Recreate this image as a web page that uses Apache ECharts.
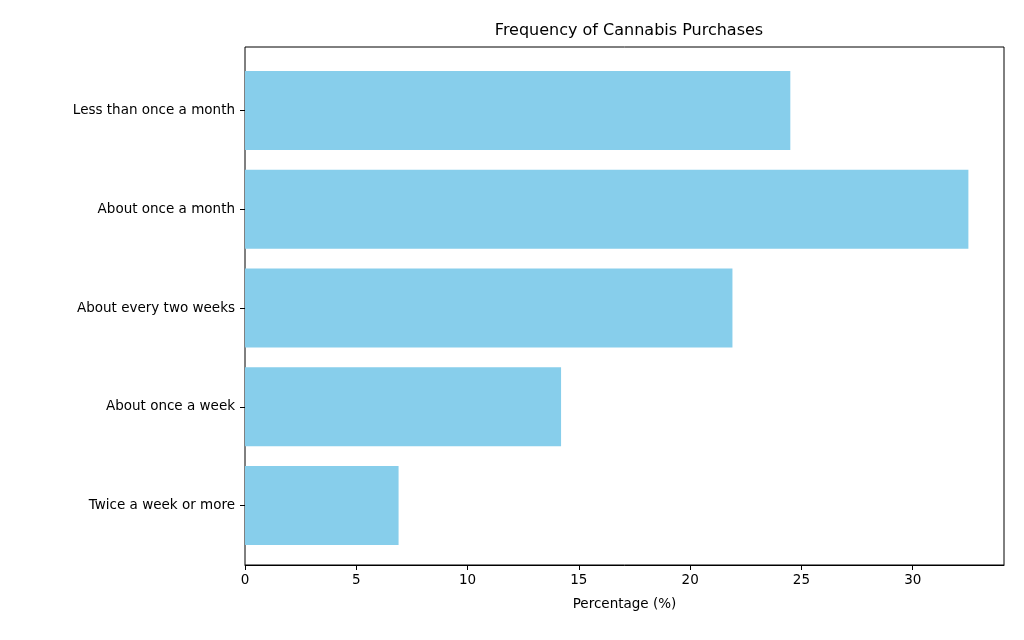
<!DOCTYPE html>
<html><head><meta charset="utf-8">
<script src="https://cdn.jsdelivr.net/npm/echarts@6/dist/echarts.min.js"></script>
<style>html,body{margin:0;background:#fff}#c{width:1024px;height:640px}</style>
</head><body><div id="c"></div>
<script>
const categories = ["Less than once a month","About once a month","About every two weeks","About once a week","Twice a week or more"];
const values = [24.5, 32.5, 21.9, 14.2, 6.9];
const chart = echarts.init(document.getElementById('c'));
const txt = {color:'#000', fontFamily:'DejaVu Sans', fontSize:13.5};
chart.setOption({
  animation:false,
  title:{text:'Frequency of Cannabis Purchases', left:624, top:18, textAlign:'center',
    textStyle:{...txt, fontSize:16, fontWeight:'normal'}},
  grid:[
    {left:245, right:20, top:47, bottom:75, show:true, borderColor:'#000', borderWidth:1},
    {left:245, right:20, top:61, bottom:85}
  ],
  xAxis:[
    {gridIndex:0, type:'value', min:0, max:34.1, interval:5,
    name:'Percentage (%)', nameLocation:'middle', nameGap:32, nameTextStyle:{...txt},
    axisLine:{show:true, lineStyle:{color:'#000'}}, axisTick:{show:true, length:5, lineStyle:{color:'#000'}},
    axisLabel:{...txt, showMaxLabel:false, margin:8}, splitLine:{show:false}},
    {gridIndex:1, type:'value', min:0, max:34.1, show:false}
  ],
  yAxis:[
    {gridIndex:0, type:'value', show:false},
    {gridIndex:1, type:'category', data:categories, inverse:true,
    axisLine:{show:false}, axisTick:{show:true, length:5, alignWithLabel:true, lineStyle:{color:'#000'}},
    axisLabel:{...txt, margin:10}}
  ],
  series:[{type:'bar', xAxisIndex:1, yAxisIndex:1, data:values, barCategoryGap:'20%', itemStyle:{color:'#87CEEB'}}]
});
</script></body></html>
